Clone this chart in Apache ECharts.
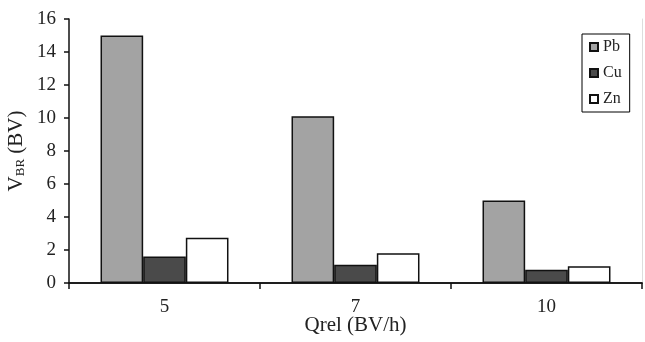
<!DOCTYPE html>
<html>
<head>
<meta charset="utf-8">
<script src="https://cdn.jsdelivr.net/npm/echarts@6/dist/echarts.min.js"></script>
<style>html,body{margin:0;padding:0;background:#fff}#c{width:645px;height:342px}</style>
</head>
<body>
<div id="c"></div>
<script>
const categories = ['5', '7', '10'];
const seriesNames = ['Pb', 'Cu', 'Zn'];
const pbValues = [15.0, 10.1, 5.0];
const cuValues = [1.6, 1.1, 0.8];
const znValues = [2.75, 1.8, 1.02];
const yTicks = [0, 2, 4, 6, 8, 10, 12, 14, 16];

const FONT = '"Liberation Serif", "Times New Roman", serif';
const colors = ['#a3a3a3', '#4a4a4a', '#ffffff'];
const values = [pbValues, cuValues, znValues];

const chart = echarts.init(document.getElementById('c'), null, {renderer: 'canvas'});
chart.setOption({
  animation: false,
  backgroundColor: '#ffffff',
  textStyle: {fontFamily: FONT},
  grid: {left: 69, right: 3, top: 19, bottom: 59, containLabel: false, outerBoundsMode: 'none'},
  legend: {
    orient: 'vertical',
    left: 582, top: 34,
    data: seriesNames,
    itemWidth: 8, itemHeight: 8,
    itemGap: 10,
    padding: [5, 8, 5, 7],
    borderColor: '#000', borderWidth: 1,
    icon: 'rect',
    textStyle: {fontFamily: FONT, fontSize: 16, color: '#222'}
  },
  xAxis: [{
    type: 'category',
    data: categories,
    boundaryGap: true,
    axisLine: {lineStyle: {color: '#111', width: 1.5}},
    axisTick: {show: true, length: 6, inside: false, lineStyle: {color: '#111', width: 1.5}},
    axisLabel: {fontFamily: FONT, fontSize: 19, color: '#222', margin: 15},
    name: 'Qrel (BV/h)',
    nameLocation: 'middle',
    nameGap: 32,
    nameMoveOverlap: false,
    nameTextStyle: {fontFamily: FONT, fontSize: 21, color: '#222'}
  }, {
    type: 'category',
    data: categories,
    position: 'top',
    axisLine: {show: true, lineStyle: {color: '#111', width: 1.5}},
    axisTick: {show: false},
    axisLabel: {show: false}
  }],
  yAxis: [{
    type: 'value',
    min: yTicks[0], max: yTicks[yTicks.length - 1], interval: 2,
    splitLine: {show: false},
    axisLine: {show: true, lineStyle: {color: '#111', width: 1.5}},
    axisTick: {show: true, length: 5, lineStyle: {color: '#111', width: 1.5}},
    axisLabel: {fontFamily: FONT, fontSize: 19, color: '#222', margin: 13},
    name: '{v|V}{s|BR}{v| (BV)}',
    nameLocation: 'middle',
    nameGap: 42,
    nameMoveOverlap: false,
    nameRotate: 90,
    nameTextStyle: {
      fontFamily: FONT, fontSize: 21, color: '#222',
      rich: {
        v: {fontFamily: FONT, fontSize: 21, color: '#222'},
        s: {fontFamily: FONT, fontSize: 13, color: '#222', verticalAlign: 'bottom', padding: [9, 0, 0, 0]}
      }
    }
  }, {
    type: 'value',
    position: 'right',
    min: yTicks[0], max: yTicks[yTicks.length - 1], interval: 2,
    splitLine: {show: false},
    axisLine: {show: true, lineStyle: {color: '#dddddd', width: 1}},
    axisTick: {show: false},
    axisLabel: {show: false}
  }],
  series: seriesNames.map((n, i) => ({
    name: n,
    type: 'bar',
    data: values[i],
    barGap: '0%',
    barCategoryGap: '33%',
    itemStyle: {color: colors[i], borderColor: '#111', borderWidth: 1.5}
  }))
});
</script>
</body>
</html>
